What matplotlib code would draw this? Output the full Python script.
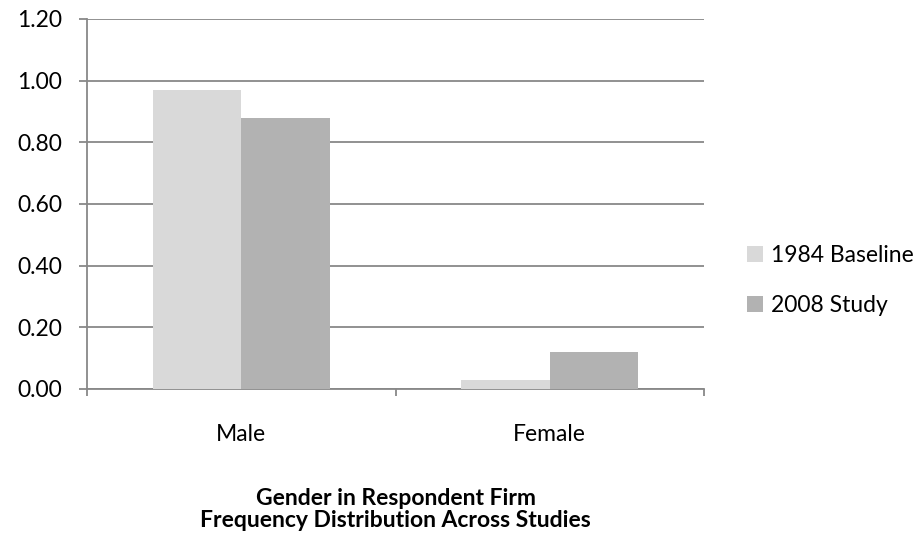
import matplotlib.pyplot as plt
import numpy as np

plt.rcParams['font.family'] = ['Lato', 'DejaVu Sans']

categories = ['Male', 'Female']
series_names = ['1984 Baseline', '2008 Study']
baseline_1984 = [0.97, 0.03]
study_2008 = [0.88, 0.12]
y_ticks = [0.0, 0.2, 0.4, 0.6, 0.8, 1.0, 1.2]

colors = ['#d9d9d9', '#b2b2b2']
grid_col = '#888888'
fs = 16.5

fig = plt.figure(figsize=(9.22, 5.33), dpi=100)
ax = fig.add_axes([0.0944, 0.2702, 0.6692, 0.6942])

x = np.arange(len(categories))
w = 0.287
ax.bar(x - w / 2, baseline_1984, w, color=colors[0], label=series_names[0], zorder=3)
ax.bar(x + w / 2, study_2008, w, color=colors[1], label=series_names[1], zorder=3)

ax.set_xlim(-0.5, len(categories) - 0.5)
ax.set_ylim(0, 1.2)
ax.set_yticks(y_ticks)
ax.set_yticklabels([f'{v:.2f}' for v in y_ticks])
ax.yaxis.grid(True, color=grid_col, linewidth=1.3, zorder=0)

# category labels centred, tick marks on the category boundaries
ax.set_xticks(x)
ax.set_xticklabels(categories)
ax.set_xticks(np.arange(len(categories) + 1) - 0.5, minor=True)
ax.tick_params(axis='x', which='major', length=0, pad=25, labelsize=fs)
ax.tick_params(axis='x', which='minor', length=5, width=1.3, color=grid_col, direction='out')
ax.tick_params(axis='y', length=6, width=1.3, color=grid_col, pad=12, labelsize=fs)

for side in ['top', 'right']:
    ax.spines[side].set_visible(False)
for side in ['left', 'bottom']:
    ax.spines[side].set_color(grid_col)
    ax.spines[side].set_linewidth(1.3)

ax.set_xlabel('Gender in Respondent Firm\nFrequency Distribution Across Studies',
              fontsize=fs, fontweight='bold', labelpad=31, linespacing=1.1)

ax.legend(loc='center left', bbox_to_anchor=(0.81, 0.474), bbox_transform=fig.transFigure,
          frameon=False, fontsize=fs, handlelength=0.7, handleheight=0.7,
          handletextpad=0.35, labelspacing=1.25, borderpad=0, borderaxespad=0)

fig.savefig('out.png', dpi=100)
